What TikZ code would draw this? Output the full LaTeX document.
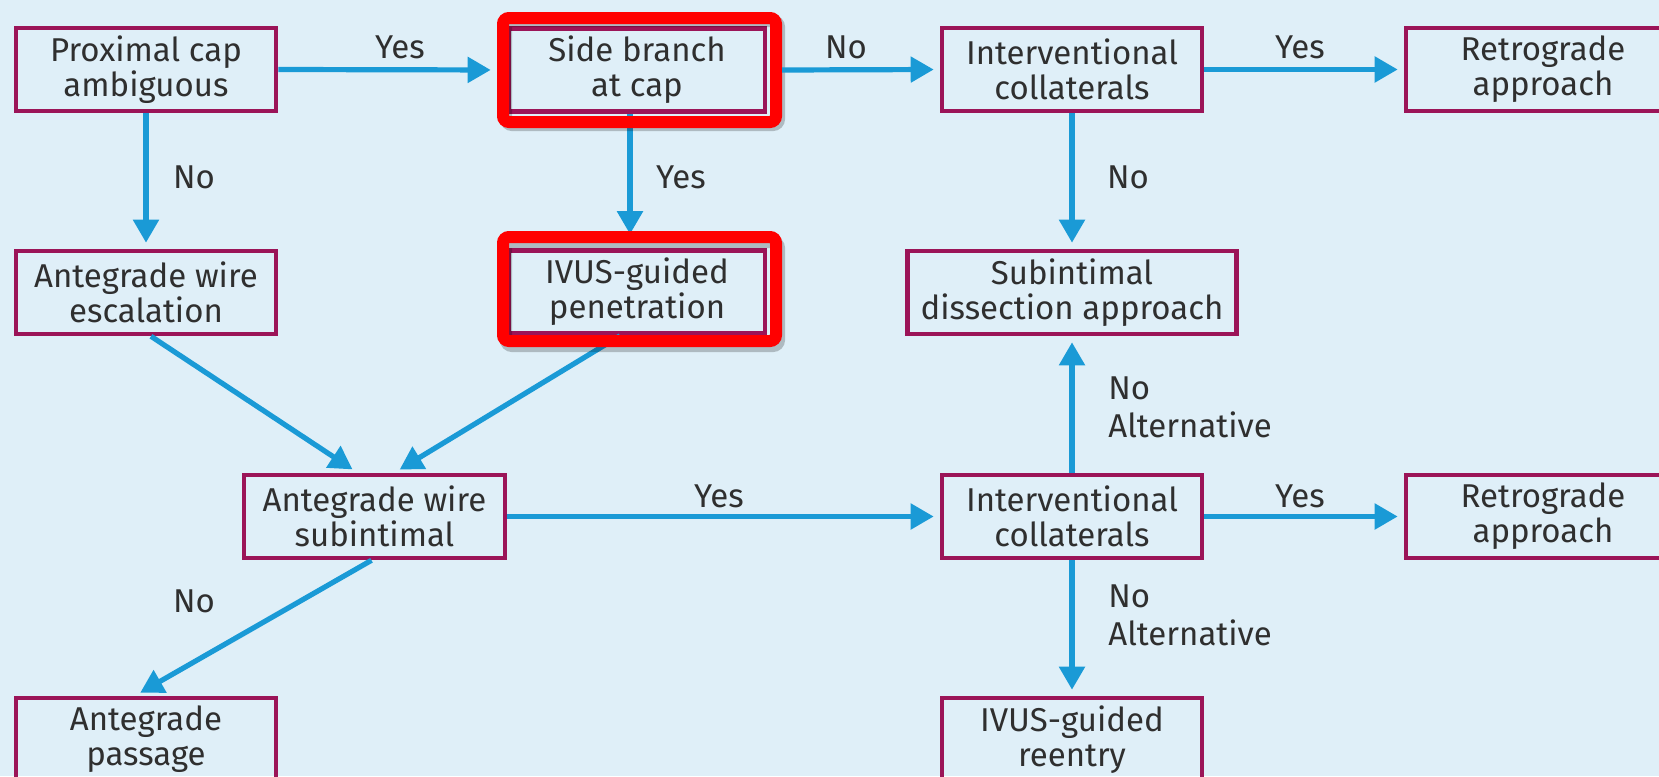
\documentclass[tikz,border=0pt]{standalone}
\usepackage{fontspec}
\setmainfont{Fira Sans}
\usetikzlibrary{arrows.meta,calc}
\definecolor{bg}{HTML}{DFEFF8}
\definecolor{boxc}{HTML}{9B1458}
\definecolor{arr}{HTML}{1A9AD6}
\definecolor{txt}{HTML}{2F2F2F}
\begin{document}
\begin{tikzpicture}[x=0.5pt,y=-0.5pt,
  box/.style={draw=boxc, line width=2.3pt, minimum width=130pt, minimum height=41.5pt,
    align=center, inner sep=0pt, font=\fontsize{16.5}{17.5}\selectfont, text=txt},
  flow/.style={draw=arr, line width=2.6pt, -{Triangle[length=11.5pt,width=12.5pt]}, shorten >=3pt},
  lab/.style={font=\fontsize{16.5}{19}\selectfont, text=txt, inner sep=0pt},
  hl/.style={draw=red, line width=6pt, rounded corners=3pt, minimum width=136.5pt, minimum height=52pt, inner sep=0pt},
  hlshadow/.style={draw=black, opacity=0.22, line width=6pt, rounded corners=3pt, minimum width=136.5pt, minimum height=52pt, inner sep=0pt}
]
\fill[bg] (0,0) rectangle (1659,776);
\useasboundingbox (0,0) rectangle (1659,776);

% boxes
\node[box] (A) at (146,69.5) {Proximal cap\\ambiguous};
\node[box, minimum width=128pt] (B) at (637,70) {Side branch\\at cap};
\node[box] (C) at (1072,69.5) {Interventional\\collaterals};
\node[box, minimum width=137pt] (D) at (1543,69.5) {Retrograde\\approach};
\node[box] (E) at (146,292.5) {Antegrade wire\\escalation};
\node[box, minimum width=128pt] (F) at (637,292) {IVUS-guided\\penetration};
\node[box, minimum width=164.5pt] (G) at (1072,292.5) {Subintimal\\dissection approach};
\node[box, minimum width=130.5pt] (H) at (374.5,516.5) {Antegrade wire\\subintimal};
\node[box] (I) at (1072,516.5) {Interventional\\collaterals};
\node[box, minimum width=137pt] (J) at (1543,516.5) {Retrograde\\approach};
\node[box] (K) at (146,739.5) {Antegrade\\passage};
\node[box] (L) at (1072,739.5) {IVUS-guided\\reentry};

% connectors
\draw[flow, shorten >=8pt] (A.east) -- (B.west);
\draw[flow] (A.south) -- (E.north);
\draw[flow, shorten >=7pt] ($(B.south)+(-7,0)$) -- ($(F.north)+(-7,0)$);
\draw[flow] (C.east) -- (D.west);
\draw[flow] (C.south) -- (G.north);
\draw[flow] ($(E.south)+(5,0)$) -- ($(H.north)+(-17,0)$);
\draw[flow] ($(F.south)+(-17,0)$) -- ($(H.north)+(20,0)$);
\draw[flow] (H.east) -- (I.west);
\draw[flow] (I.east) -- (D.west |- I.east);
\draw[flow] (I.north) -- (G.south);
\draw[flow] (I.south) -- (L.north);
\draw[flow] ($(H.south)+(-3,0)$) -- ($(K.north)+(-11,0)$);

% highlight frames
\node[hlshadow] (SB1) at (642.5,73) {};
\node[hlshadow] (SF1) at (642.5,294) {};
\node[hl] (RB) at (639.5,70) {};
\node[hl] (RF) at (639.5,289) {};
\draw[flow, shorten >=3pt, shorten <=0pt] (RB.east) -- (C.west);

% labels
\node[lab] (l1) at (400,47) {Yes};
\node[lab] (l2) at (846,47) {No};
\node[lab] (l3) at (1300,47) {Yes};
\node[lab] (l4) at (194,177) {No};
\node[lab] (l5) at (681,177) {Yes};
\node[lab] (l6) at (1128,177) {No};
\node[lab, anchor=west, align=left] (l7) at (1108,407) {No\\Alternative};
\node[lab] (l8) at (719,496) {Yes};
\node[lab] (l9) at (1300,496) {Yes};
\node[lab, anchor=west, align=left] (l10) at (1108,615) {No\\Alternative};
\node[lab] (l11) at (194,601) {No};
\end{tikzpicture}
\end{document}
